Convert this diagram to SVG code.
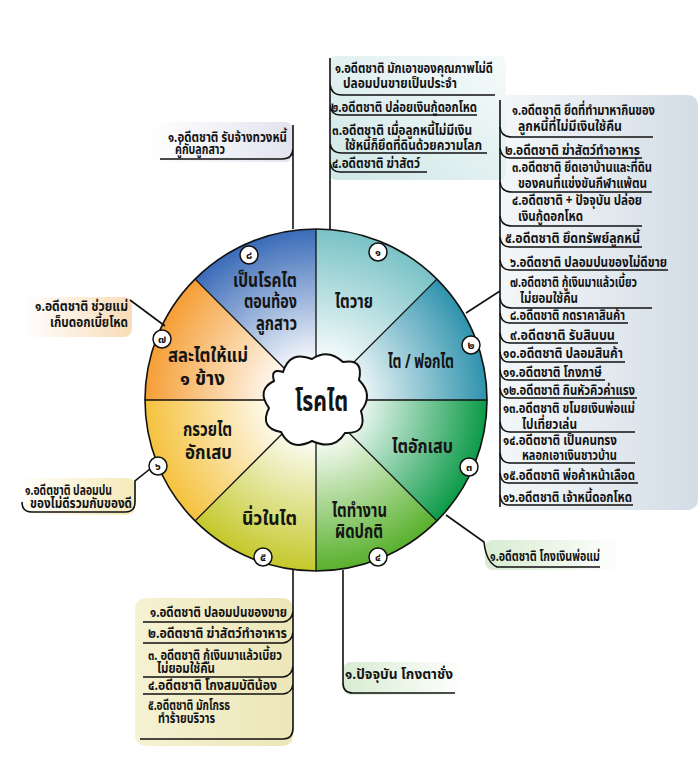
<svg xmlns="http://www.w3.org/2000/svg" width="700" height="777" viewBox="0 0 700 777">
<style>
text{font-family:"Noto Sans Thai","Noto Sans","DejaVu Sans",sans-serif;font-weight:bold;fill:#141414}
.t{font-size:14px}
.s{font-size:20px}
.c{font-size:29px}
.n{font-size:11px;text-anchor:middle}
.ln{fill:none;stroke:#111;stroke-width:1.6}
.dv{fill:none;stroke:#111;stroke-width:1.3}
.bd{fill:#fff;stroke:#111;stroke-width:1.5}
</style>
<defs>
<radialGradient id="g1" gradientUnits="userSpaceOnUse" cx="316" cy="400" r="171"><stop offset="0.2" stop-color="#fff"/><stop offset="1" stop-color="#78c2c6"/></radialGradient>
<radialGradient id="g2" gradientUnits="userSpaceOnUse" cx="316" cy="400" r="171"><stop offset="0.2" stop-color="#fff"/><stop offset="1" stop-color="#2f93ad"/></radialGradient>
<radialGradient id="g3" gradientUnits="userSpaceOnUse" cx="316" cy="400" r="171"><stop offset="0.2" stop-color="#fff"/><stop offset="1" stop-color="#0c9a48"/></radialGradient>
<radialGradient id="g4" gradientUnits="userSpaceOnUse" cx="316" cy="400" r="171"><stop offset="0.2" stop-color="#fff"/><stop offset="1" stop-color="#58b02c"/></radialGradient>
<radialGradient id="g5" gradientUnits="userSpaceOnUse" cx="316" cy="400" r="171"><stop offset="0.2" stop-color="#fff"/><stop offset="1" stop-color="#c4c82a"/></radialGradient>
<radialGradient id="g6" gradientUnits="userSpaceOnUse" cx="316" cy="400" r="171"><stop offset="0.2" stop-color="#fff"/><stop offset="1" stop-color="#f5c23e"/></radialGradient>
<radialGradient id="g7" gradientUnits="userSpaceOnUse" cx="316" cy="400" r="171"><stop offset="0.2" stop-color="#fff"/><stop offset="1" stop-color="#f59e34"/></radialGradient>
<radialGradient id="g8" gradientUnits="userSpaceOnUse" cx="316" cy="400" r="171"><stop offset="0.2" stop-color="#fff"/><stop offset="1" stop-color="#3a6bb8"/></radialGradient>
<linearGradient id="bgR" x1="0" y1="0" x2="1" y2="0"><stop offset="0" stop-color="#f4f7f9"/><stop offset="1" stop-color="#d3dde6"/></linearGradient>
<linearGradient id="bgT" x1="0" y1="1" x2="1" y2="0"><stop offset="0" stop-color="#cfe6e6"/><stop offset="1" stop-color="#f6fbfb"/></linearGradient>
<linearGradient id="bgL" x1="0" y1="0" x2="1" y2="0"><stop offset="0" stop-color="#fff"/><stop offset="1" stop-color="#e3e3ef"/></linearGradient>
<linearGradient id="bgO" x1="0" y1="0" x2="1" y2="0"><stop offset="0" stop-color="#fff"/><stop offset="1" stop-color="#f9dcb8"/></linearGradient>
<linearGradient id="bgY" x1="0" y1="0" x2="1" y2="0"><stop offset="0" stop-color="#fff"/><stop offset="1" stop-color="#f5eab8"/></linearGradient>
<linearGradient id="bgG" x1="0" y1="0" x2="1" y2="0"><stop offset="0" stop-color="#d8ecd2"/><stop offset="1" stop-color="#fff"/></linearGradient>
<linearGradient id="bgB" x1="0" y1="0" x2="1" y2="0"><stop offset="0" stop-color="#f6f2d2"/><stop offset="1" stop-color="#ece6b8"/></linearGradient>
</defs>

<g id="backgrounds">
<rect x="500" y="95" width="198" height="415" rx="10" fill="url(#bgR)"/>
<rect x="330" y="56" width="176" height="124" rx="6" fill="url(#bgT)"/>
<rect x="150" y="122" width="143" height="40" rx="8" fill="url(#bgL)"/>
<rect x="22" y="297" width="110" height="40" rx="8" fill="url(#bgO)"/>
<rect x="15" y="478" width="120" height="37" rx="8" fill="url(#bgY)"/>
<rect x="485" y="540" width="140" height="30" rx="8" fill="url(#bgG)"/>
<rect x="343" y="662" width="122" height="33" rx="8" fill="url(#bgG)"/>
<rect x="135" y="598" width="158" height="148" rx="10" fill="url(#bgB)"/>
</g>

<g id="wheel">
<path d="M316 400 L316 229 A171 171 0 0 1 436.9 279.1 Z" fill="url(#g1)"/>
<path d="M316 400 L436.9 279.1 A171 171 0 0 1 487 400 Z" fill="url(#g2)"/>
<path d="M316 400 L487 400 A171 171 0 0 1 436.9 520.9 Z" fill="url(#g3)"/>
<path d="M316 400 L436.9 520.9 A171 171 0 0 1 316 571 Z" fill="url(#g4)"/>
<path d="M316 400 L316 571 A171 171 0 0 1 195.1 520.9 Z" fill="url(#g5)"/>
<path d="M316 400 L195.1 520.9 A171 171 0 0 1 145 400 Z" fill="url(#g6)"/>
<path d="M316 400 L145 400 A171 171 0 0 1 195.1 279.1 Z" fill="url(#g7)"/>
<path d="M316 400 L195.1 279.1 A171 171 0 0 1 316 229 Z" fill="url(#g8)"/>
<path class="dv" d="M316 229 V571 M145 400 H487 M195.1 279.1 L436.9 520.9 M436.9 279.1 L195.1 520.9"/>
<circle cx="316" cy="400" r="171" fill="none" stroke="#111" stroke-width="1.6"/>
</g>

<g id="center">
<path d="M283 372 Q290 350 312 359 Q328 348 343 362 Q364 358 359 380 Q374 395 361 411 Q368 434 345 433 Q334 451 312 441 Q291 452 281 432 Q259 428 269 408 Q256 390 274 381 Q270 368 283 372 Z" fill="#fff" stroke="#111" stroke-width="2"/>
<text class="c" x="295" y="411" textLength="53" lengthAdjust="spacingAndGlyphs">โรคไต</text>
</g>

<g id="sector-labels">
<text class="s" x="335" y="308" textLength="38" lengthAdjust="spacingAndGlyphs">ไตวาย</text>
<text class="s" x="388" y="368" textLength="66" lengthAdjust="spacingAndGlyphs">ไต / ฟอกไต</text>
<text class="s" x="392" y="453" textLength="61" lengthAdjust="spacingAndGlyphs">ไตอักเสบ</text>
<text class="s" x="332" y="517" textLength="55" lengthAdjust="spacingAndGlyphs">ไตทำงาน</text>
<text class="s" x="335" y="538" textLength="48" lengthAdjust="spacingAndGlyphs">ผิดปกติ</text>
<text class="s" x="242" y="525" textLength="55" lengthAdjust="spacingAndGlyphs">นิ่วในไต</text>
<text class="s" x="183" y="436" textLength="49" lengthAdjust="spacingAndGlyphs">กรวยไต</text>
<text class="s" x="185" y="459" textLength="47" lengthAdjust="spacingAndGlyphs">อักเสบ</text>
<text class="s" x="168" y="362" textLength="80" lengthAdjust="spacingAndGlyphs">สละไตให้แม่</text>
<text class="s" x="180" y="385" textLength="45" lengthAdjust="spacingAndGlyphs">๑ ข้าง</text>
<text class="s" x="233" y="287" textLength="64" lengthAdjust="spacingAndGlyphs">เป็นโรคไต</text>
<text class="s" x="244" y="308" textLength="53" lengthAdjust="spacingAndGlyphs">ตอนท้อง</text>
<text class="s" x="256" y="330" textLength="41" lengthAdjust="spacingAndGlyphs">ลูกสาว</text>
</g>

<g id="badges">
<circle class="bd" cx="378" cy="252" r="9"/><text class="n" x="378" y="256">๑</text>
<circle class="bd" cx="471" cy="345" r="9"/><text class="n" x="471" y="349">๒</text>
<circle class="bd" cx="469" cy="467" r="9"/><text class="n" x="469" y="471">๓</text>
<circle class="bd" cx="378" cy="557" r="9"/><text class="n" x="378" y="561">๔</text>
<circle class="bd" cx="263" cy="557" r="9"/><text class="n" x="263" y="561">๕</text>
<circle class="bd" cx="158" cy="466" r="9"/><text class="n" x="158" y="470">๖</text>
<circle class="bd" cx="162" cy="339" r="9"/><text class="n" x="162" y="343">๗</text>
<circle class="bd" cx="249" cy="255" r="9"/><text class="n" x="249" y="259">๘</text>
</g>

<g id="connectors">
<path class="ln" d="M293 229 V125 M293 148 Q293 159 282 159 H160"/>
<path class="ln" d="M330 229 V58 M330 84 Q331 95 342 95 H495 M330 105 Q331 115 340 115 H477 M330 143 Q331 153 342 153 H487 M330 162 Q331 172 340 172 H427"/>
<path class="ln" d="M500 100 V507 M466 313 L500 291"/>
<path class="ln" d="M500 127 Q501 137 512 137 H653 M500 148 Q501 158 510 158 H642 M500 182 Q501 192 512 192 H652 M500 216 Q501 226 512 226 H642 M500 237 Q501 247 510 247 H642 M500 260 Q501 270 510 270 H668 M500 298 Q501 308 512 308 H652 M500 313 Q501 323 510 323 H628 M500 333 Q501 343 510 343 H618 M500 352 Q501 362 508 362 H625 M500 370 Q501 380 508 380 H605 M500 388 Q501 398 508 398 H637 M500 422 Q501 432 510 432 H635 M500 453 Q501 463 510 463 H635 M500 473 Q501 483 508 483 H638 M500 495 Q501 505 508 505 H633"/>
<path class="ln" d="M165 326 L130 300"/>
<path class="ln" d="M150 469 L135 481 V502 Q135 512 125 512 H32 Q22 512 22 502"/>
<path class="ln" d="M446 515 L484 542 Q486 562 497 567 H600"/>
<path class="ln" d="M343 570 V683 Q343 693 353 693 H455"/>
<path class="ln" d="M293 570 V728 Q293 739 283 739 H140 M143 622 H283 Q292 621 293 611 M143 643 H283 Q292 642 293 632 M143 677 H283 Q292 676 293 666 M143 694 H283 Q292 693 293 684"/>
</g>

<g id="box-top-left">
<text class="t" x="168" y="142" textLength="119" lengthAdjust="spacingAndGlyphs">๑.อดีตชาติ รับจ้างทวงหนี้</text>
<text class="t" x="175" y="154" textLength="50" lengthAdjust="spacingAndGlyphs">คู่กับลูกสาว</text>
</g>

<g id="box-top">
<text class="t" x="335" y="73" textLength="158" lengthAdjust="spacingAndGlyphs">๑.อดีตชาติ มักเอาของคุณภาพไม่ดี</text>
<text class="t" x="343" y="88" textLength="114" lengthAdjust="spacingAndGlyphs">ปลอมปนขายเป็นประจำ</text>
<text class="t" x="331" y="112" textLength="146" lengthAdjust="spacingAndGlyphs">๒.อดีตชาติ ปล่อยเงินกู้ดอกโหด</text>
<text class="t" x="332" y="135" textLength="140" lengthAdjust="spacingAndGlyphs">๓.อดีตชาติ เมื่อลูกหนี้ไม่มีเงิน</text>
<text class="t" x="345" y="150" textLength="137" lengthAdjust="spacingAndGlyphs">ใช้หนี้ก็ยึดที่ดินด้วยความโลภ</text>
<text class="t" x="332" y="168" textLength="88" lengthAdjust="spacingAndGlyphs">๔.อดีตชาติ ฆ่าสัตว์</text>
</g>

<g id="box-right">
<text class="t" x="512" y="115" textLength="143" lengthAdjust="spacingAndGlyphs">๑.อดีตชาติ ยึดที่ทำมาหากินของ</text>
<text class="t" x="518" y="131" textLength="104" lengthAdjust="spacingAndGlyphs">ลูกหนี้ที่ไม่มีเงินใช้คืน</text>
<text class="t" x="505" y="155" textLength="135" lengthAdjust="spacingAndGlyphs">๒.อดีตชาติ ฆ่าสัตว์ทำอาหาร</text>
<text class="t" x="512" y="172" textLength="140" lengthAdjust="spacingAndGlyphs">๓.อดีตชาติ ยึดเอาบ้านและที่ดิน</text>
<text class="t" x="518" y="188" textLength="129" lengthAdjust="spacingAndGlyphs">ของคนที่แข่งขันกีฬาแพ้ตน</text>
<text class="t" x="512" y="205" textLength="130" lengthAdjust="spacingAndGlyphs">๔.อดีตชาติ + ปัจจุบัน ปล่อย</text>
<text class="t" x="518" y="221" textLength="65" lengthAdjust="spacingAndGlyphs">เงินกู้ดอกโหด</text>
<text class="t" x="505" y="243" textLength="135" lengthAdjust="spacingAndGlyphs">๕.อดีตชาติ ยึดทรัพย์ลูกหนี้</text>
<text class="t" x="510" y="267" textLength="157" lengthAdjust="spacingAndGlyphs">๖.อดีตชาติ ปลอมปนของไม่ดีขาย</text>
<text class="t" x="510" y="287" textLength="127" lengthAdjust="spacingAndGlyphs">๗.อดีตชาติ กู้เงินมาแล้วเบี้ยว</text>
<text class="t" x="520" y="303" textLength="58" lengthAdjust="spacingAndGlyphs">ไม่ยอมใช้คืน</text>
<text class="t" x="510" y="320" textLength="115" lengthAdjust="spacingAndGlyphs">๘.อดีตชาติ กดราคาสินค้า</text>
<text class="t" x="510" y="340" textLength="105" lengthAdjust="spacingAndGlyphs">๙.อดีตชาติ รับสินบน</text>
<text class="t" x="503" y="358" textLength="120" lengthAdjust="spacingAndGlyphs">๑๐.อดีตชาติ ปลอมสินค้า</text>
<text class="t" x="503" y="377" textLength="99" lengthAdjust="spacingAndGlyphs">๑๑.อดีตชาติ โกงภาษี</text>
<text class="t" x="503" y="395" textLength="132" lengthAdjust="spacingAndGlyphs">๑๒.อดีตชาติ กินหัวคิวค่าแรง</text>
<text class="t" x="503" y="413" textLength="132" lengthAdjust="spacingAndGlyphs">๑๓.อดีตชาติ ขโมยเงินพ่อแม่</text>
<text class="t" x="522" y="429" textLength="55" lengthAdjust="spacingAndGlyphs">ไปเที่ยวเล่น</text>
<text class="t" x="503" y="445" textLength="114" lengthAdjust="spacingAndGlyphs">๑๔.อดีตชาติ เป็นคนทรง</text>
<text class="t" x="522" y="460" textLength="95" lengthAdjust="spacingAndGlyphs">หลอกเอาเงินชาวบ้าน</text>
<text class="t" x="503" y="480" textLength="132" lengthAdjust="spacingAndGlyphs">๑๕.อดีตชาติ พ่อค้าหน้าเลือด</text>
<text class="t" x="503" y="502" textLength="129" lengthAdjust="spacingAndGlyphs">๑๖.อดีตชาติ เจ้าหนี้ดอกโหด</text>
</g>

<g id="box-left-1">
<text class="t" x="35" y="311" textLength="93" lengthAdjust="spacingAndGlyphs">๑.อดีตชาติ ช่วยแม่</text>
<text class="t" x="50" y="327" textLength="78" lengthAdjust="spacingAndGlyphs">เก็บดอกเบี้ยโหด</text>
</g>

<g id="box-left-2">
<text class="t" x="25" y="495" textLength="87" lengthAdjust="spacingAndGlyphs">๑.อดีตชาติ ปลอมปน</text>
<text class="t" x="30" y="508" textLength="102" lengthAdjust="spacingAndGlyphs">ของไม่ดีรวมกับของดี</text>
</g>

<g id="box-bottom-right">
<text class="t" x="490" y="561" textLength="110" lengthAdjust="spacingAndGlyphs">๑.อดีตชาติ โกงเงินพ่อแม่</text>
</g>

<g id="box-bottom-middle">
<text class="t" x="345" y="679" textLength="108" lengthAdjust="spacingAndGlyphs">๑.ปัจจุบัน โกงตาชั่ง</text>
</g>

<g id="box-bottom-left">
<text class="t" x="150" y="617" textLength="137" lengthAdjust="spacingAndGlyphs">๑.อดีตชาติ ปลอมปนของขาย</text>
<text class="t" x="148" y="638" textLength="139" lengthAdjust="spacingAndGlyphs">๒.อดีตชาติ ฆ่าสัตว์ทำอาหาร</text>
<text class="t" x="148" y="660" textLength="134" lengthAdjust="spacingAndGlyphs">๓. อดีตชาติ กู้เงินมาแล้วเบี้ยว</text>
<text class="t" x="157" y="673" textLength="58" lengthAdjust="spacingAndGlyphs">ไม่ยอมใช้คืน</text>
<text class="t" x="148" y="690" textLength="129" lengthAdjust="spacingAndGlyphs">๔.อดีตชาติ โกงสมบัติน้อง</text>
<text class="t" x="148" y="710" textLength="82" lengthAdjust="spacingAndGlyphs">๕.อดีตชาติ มักโกรธ</text>
<text class="t" x="158" y="723" textLength="57" lengthAdjust="spacingAndGlyphs">ทำร้ายบริวาร</text>
</g>
</svg>
